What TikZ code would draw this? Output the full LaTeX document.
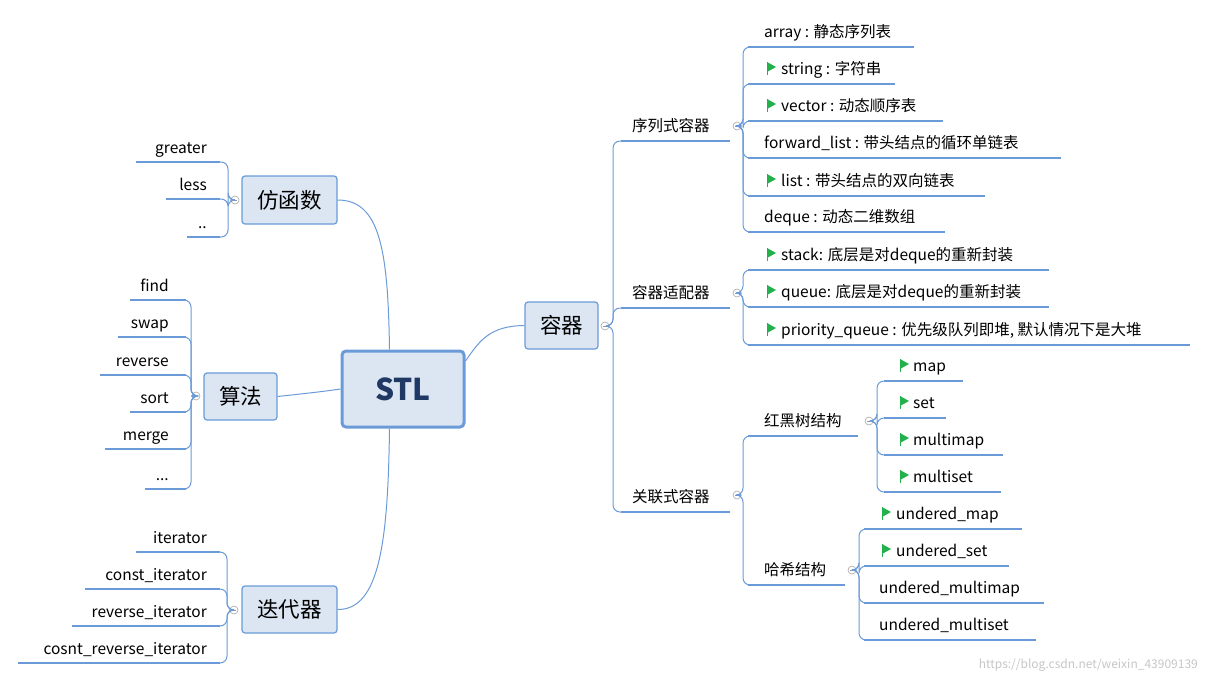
\documentclass[tikz,border=0pt]{standalone}
\usepackage{fontspec}
\setmainfont{Noto Sans CJK SC}
\definecolor{ln}{HTML}{6A9BD8}
\definecolor{bx}{HTML}{DCE6F2}
\definecolor{tx}{HTML}{1F3864}
\definecolor{fg}{HTML}{22B14C}
\tikzset{
 topic/.style={draw=ln,fill=bx,rounded corners=3pt,line width=1.2pt,font=\fontsize{21.5}{21.5}\selectfont,text=black,inner sep=0pt},
 stlbox/.style={draw=ln,fill=bx,rounded corners=4pt,line width=3pt,font=\fontsize{30}{30}\selectfont\bfseries,text=tx,minimum width=122,minimum height=76},
 con/.style={draw=ln,line width=1pt,rounded corners=7pt},
 ul/.style={draw=ln,line width=1.6pt},
 lt/.style={font=\fontsize{15.5}{15.5}\selectfont,anchor=base west,inner sep=0pt},
 ltr/.style={font=\fontsize{15.5}{15.5}\selectfont,anchor=base east,inner sep=0pt},
 cc/.style={circle,draw=gray!70,fill=white,line width=0.6pt,minimum size=8pt,inner sep=0pt,
   path picture={\draw[gray!80,line width=0.6pt] ([xshift=-2pt]path picture bounding box.center)--([xshift=2pt]path picture bounding box.center);}}
}
\newcommand\myflag[2]{\draw[fg,line width=0.9pt] (#1,#2+1)--(#1,#2-12);\fill[fg] (#1,#2-12)--(#1+9,#2-7)--(#1,#2-2)--cycle;}
\newcommand\mydtwo{..}
\newcommand\mydthree{...}
\begin{document}
\begin{tikzpicture}[x=1pt,y=-1pt]
\useasboundingbox (0,0) rectangle (1207,683);
% central
\node[stlbox] (stl) at (403,389) {STL};
\node[topic,minimum width=95,minimum height=48] (fh) at (289.5,200) {仿函数};
\node[topic,minimum width=73,minimum height=47] (sf) at (240.5,396.5) {算法};
\node[topic,minimum width=95,minimum height=47] (dd) at (289.5,609.5) {迭代器};
\node[topic,minimum width=73,minimum height=47] (rq) at (561.5,325.5) {容器};
\draw[con] (stl.north west)++(49,0) .. controls (388,250) and (380,200) .. (fh.east);
\draw[con] (stl.west) .. controls (320,392) and (300,394) .. (sf.east);
\draw[con] (stl.south west)++(49,0) .. controls (388,540) and (380,610) .. (dd.east);
\draw[con] (stl.east)++(0,-28) .. controls (480,340) and (490,326) .. (rq.west);
% circles
\node[cc] (c1) at (235,200) {};
\node[cc] (c2) at (196,396) {};
\node[cc] (c3) at (234,610) {};
\node[cc] (c4) at (605,326) {};
\node[cc] (c5) at (737,126) {};
\node[cc] (c6) at (737,293) {};
\node[cc] (c7) at (737,495) {};
\node[cc] (c8) at (869,421) {};
\node[cc] (c9) at (852,570) {};
% left leaves
\foreach \a/\y/\t in {136/162/greater,166/199/less,187/237/\mydtwo}{
 \draw[ul] (\a,\y)--(220,\y); \node[ltr] at (207,\y-9) {\t};
 \draw[con] (c1.west)--(228,200)|-(220,\y);}
\foreach \a/\y/\t in {130/300/find,118/337/swap,100/375/reverse,130/412/sort,105/449/merge,145/489/\mydthree}{
 \draw[ul] (\a,\y)--(186,\y); \node[ltr] at (169,\y-9) {\t};
 \draw[con] (c2.west)--(191,396)|-(186,\y);}
\foreach \a/\y/\t in {136/552/iterator,85/589/const\_iterator,72/626/reverse\_iterator,18/663/cosnt\_reverse\_iterator}{
 \draw[ul] (\a,\y)--(220,\y); \node[ltr] at (207,\y-9) {\t};
 \draw[con] (c3.west)--(227,610)|-(220,\y);}
% 容器 children
\foreach \y/\e/\t in {141/730/序列式容器,308/730/容器适配器,512/730/关联式容器}{
 \draw[ul] (621,\y)--(\e,\y); \node[lt] at (632,\y-10) {\t};
 \draw[con] (c4.east)--(613,326)|-(621,\y);}
% 序列式
\foreach \y/\e/\f/\t in {47/914/0/array : 静态序列表,84/895/1/string : 字符串,121/943/1/vector : 动态顺序表,158/1061/0/forward\_list : 带头结点的循环单链表,196/985/1/list : 带头结点的双向链表,232/945/0/deque : 动态二维数组}{
 \draw[ul] (748,\y)--(\e,\y);
 \ifnum\f=1 \myflag{767}{\y-10}\node[lt] at (781,\y-10) {\t};\else\node[lt] at (764,\y-10) {\t};\fi
 \draw[con] (c5.east)--(743,126)|-(748,\y);}
\foreach \y/\e/\t in {270/1049/stack: 底层是对deque的重新封装,307/1049/queue: 底层是对deque的重新封装,345/1190/{priority\_queue : 优先级队列即堆, 默认情况下是大堆}}{
 \draw[ul] (748,\y)--(\e,\y); \myflag{767}{\y-10}\node[lt] at (781,\y-10) {\t};
 \draw[con] (c6.east)--(743,293)|-(748,\y);}
\foreach \y/\e/\t in {436/858/红黑树结构,585/845/哈希结构}{
 \draw[ul] (748,\y)--(\e,\y); \node[lt] at (764,\y-10) {\t};
 \draw[con] (c7.east)--(743,495)|-(748,\y);}
\foreach \y/\e/\t in {381/963/map,418/946/set,455/1003/multimap,492/1001/multiset}{
 \draw[ul] (884,\y)--(\e,\y); \myflag{900}{\y-10}\node[lt] at (913,\y-10) {\t};
 \draw[con] (c8.east)--(877,421)|-(884,\y);}
\foreach \y/\e/\f/\t in {529/1022/1/undered\_map,566/1009/1/undered\_set,603/1044/0/undered\_multimap,640/1036/0/undered\_multiset}{
 \draw[ul] (864,\y)--(\e,\y);
 \ifnum\f=1 \myflag{882}{\y-10}\node[lt] at (896,\y-10) {\t};\else\node[lt] at (879,\y-10) {\t};\fi
 \draw[con] (c9.east)--(859,570)|-(864,\y);}
\node[font=\fontsize{12}{12}\selectfont,text=gray!45,anchor=base east,inner sep=0pt] (wm) at (1198,668) {https://blog.csdn.net/weixin\_43909139};
\end{tikzpicture}
\end{document}
